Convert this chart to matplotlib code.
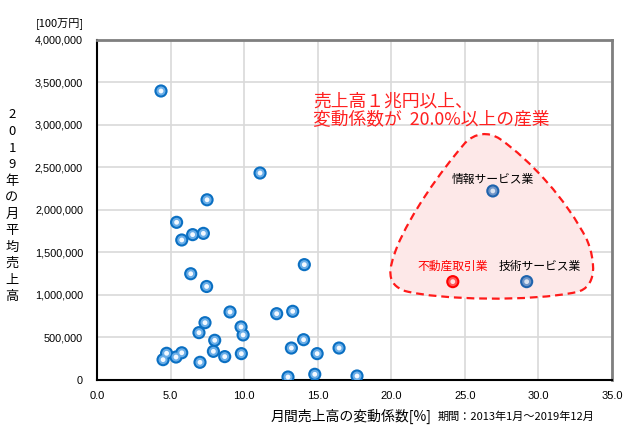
import matplotlib
matplotlib.use("Agg")
import matplotlib.pyplot as plt
from matplotlib.path import Path
from matplotlib.patches import PathPatch

plt.rcParams['font.family'] = ['Noto Sans CJK JP', 'DejaVu Sans']

# 変動係数[%] と 月平均売上高[100万円]
cv = [4.35, 11.08, 7.48, 5.41, 6.50, 7.23, 5.76, 6.37, 7.45, 14.09,
      9.04, 12.21, 13.30, 7.34, 9.79, 9.93, 6.93, 8.00, 14.04, 13.21,
      7.91, 8.68, 9.81, 4.73, 5.76, 5.37, 4.49, 7.00, 14.96, 12.98,
      14.80, 16.45, 17.67]
sales = [3400000, 2435000, 2120000, 1855000, 1710000, 1725000, 1647000, 1250000, 1100000, 1357000,
         800000, 780000, 808000, 674000, 624000, 530000, 557000, 467000, 474000, 376000,
         337000, 275000, 310000, 314000, 320000, 270000, 239000, 208000, 310000, 35000,
         67000, 376000, 47000]

hi_names = ['情報サービス業', '技術サービス業']
hi_cv = [26.9, 29.2]
hi_sales = [2224000, 1157000]

re_name = '不動産取引業'
re_cv = [24.18]
re_sales = [1157000]

xticks = [0, 5, 10, 15, 20, 25, 30, 35]
yticks = [0, 500000, 1000000, 1500000, 2000000, 2500000, 3000000, 3500000, 4000000]

fig = plt.figure(figsize=(6.29, 4.40), dpi=100)
ax = fig.add_axes([0.1542, 0.1364, 0.8188, 0.7727])

ax.set_xlim(0, 35)
ax.set_ylim(0, 4000000)
ax.set_xticks(xticks)
ax.set_xticklabels([f"{v:.1f}" for v in xticks], family='Liberation Sans', fontsize=8)
ax.set_yticks(yticks)
ax.set_yticklabels([f"{v:,}" if v else "0" for v in yticks], family='Liberation Sans', fontsize=7.8)
ax.tick_params(axis='y', length=0, pad=10)
ax.tick_params(axis='x', length=0, pad=8)
ax.grid(True, color='#d9d9d9', linewidth=1.2)
ax.set_axisbelow(True)
for s in ['left', 'bottom']:
    ax.spines[s].set_color('black')
    ax.spines[s].set_linewidth(1.5)
for s in ['top', 'right']:
    ax.spines[s].set_color('#7f7f7f')
    ax.spines[s].set_linewidth(2)

# highlighted area (rounded triangle)
verts = [(20.39, 1565000),
         (19.78, 1294000), (19.64, 1129000), (20.93, 1047000),
         (23.31, 941000), (29.43, 918000), (32.62, 1035000),
         (33.98, 1094000), (33.91, 1388000), (33.30, 1647000),
         (31.94, 2118000), (29.43, 2588000), (27.39, 2835000),
         (26.57, 2929000), (25.69, 2906000), (25.01, 2788000),
         (23.31, 2447000), (21.27, 1941000), (20.39, 1565000)]
codes = [Path.MOVETO] + [Path.CURVE4] * 18
blob = PathPatch(Path(verts, codes), facecolor='#fde8e8', edgecolor='#ff1a1a',
                 linestyle=(0, (3.5, 2.2)), linewidth=1.6, zorder=1.5)
ax.add_patch(blob)

def glossy(x, y, outer, mid, inner):
    ax.scatter(x, y, s=90, color=outer, edgecolors='none', zorder=3)
    ax.scatter(x, y, s=42, color=mid, edgecolors='none', zorder=4)
    ax.scatter(x, y, s=12, color=inner, edgecolors='none', zorder=5)

glossy(cv, sales, '#0a6fc2', '#6aaee8', '#f4f9ff')
glossy(hi_cv, hi_sales, '#1f63ad', '#6f95c8', '#d9e3f0')
glossy(re_cv, re_sales, '#ff0000', '#ff5a5a', '#ffe0e0')

ax.text(hi_cv[0], hi_sales[0] + 140000, hi_names[0], ha='center', va='center', fontsize=8.5)
ax.text(hi_cv[1] + 0.9, hi_sales[1] + 180000, hi_names[1], ha='center', va='center', fontsize=8.5)
ax.text(re_cv[0], re_sales[0] + 180000, re_name, ha='center', va='center', fontsize=8.5, color='#ff0000')

ax.text(14.7, 2960000, '売上高１兆円以上、\n変動係数が  20.0%以上の産業', color='#ff2020',
        fontsize=12.8, ha='left', va='bottom', linespacing=1.0)

fig.text(36 / 629, 1 - 24 / 440, '[100万円]', fontsize=8, ha='left', va='center')
for i, ch in enumerate('2019年の月平均売上高'):
    fig.text(12 / 629, 1 - (115 + i * 16.5) / 440, ch, fontsize=9.5, ha='center', va='center')
fig.text(351 / 629, 1 - 416 / 440, '月間売上高の変動係数[%]', fontsize=10, ha='center', va='center')
fig.text(438 / 629, 1 - 417 / 440, '期間：2013年1月～2019年12月', fontsize=8, ha='left', va='center')

fig.savefig('out.png', dpi=100)
